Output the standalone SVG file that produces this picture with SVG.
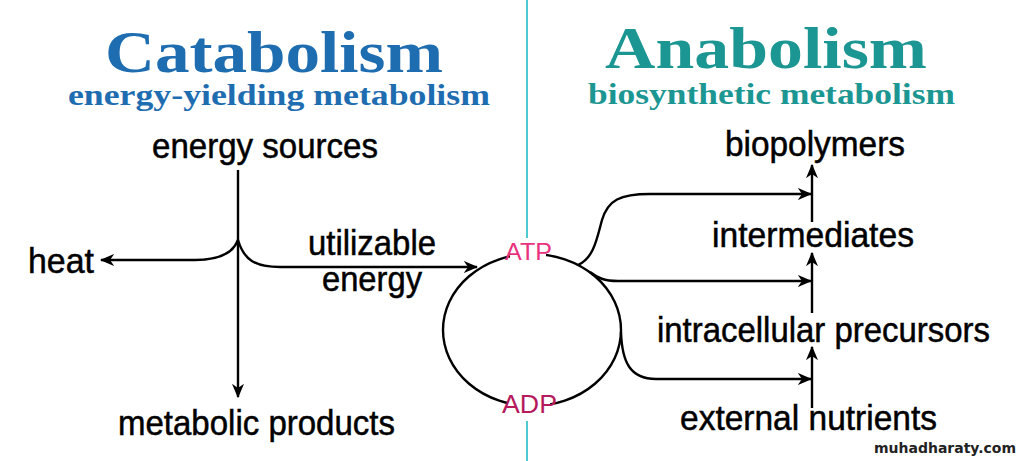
<svg xmlns="http://www.w3.org/2000/svg" width="1024" height="461" viewBox="0 0 1024 461">
<defs>
<style>
.t{font-family:"Liberation Sans",Arial,sans-serif;font-size:35px;fill:#000;stroke:#000;stroke-width:0.5;}
.title{font-family:"Liberation Serif","Times New Roman",serif;font-weight:bold;}
.ln{fill:none;stroke:#000;stroke-width:2.4;}
.ar{marker-end:url(#ah);}
.nt{font-family:"Liberation Sans",Arial,sans-serif;}
</style>
<marker id="ah" viewBox="0 0 12 10" refX="11" refY="5" markerWidth="6" markerHeight="5" markerUnits="strokeWidth" orient="auto">
<path d="M0,0 L12,5 L0,10 L3.5,5 z" fill="#000"/>
</marker>
</defs>
<rect width="1024" height="461" fill="#fff"/>
<g id="divider">
<line x1="527" y1="0" x2="527" y2="238" stroke="#4fc9d2" stroke-width="2"/>
<line x1="527" y1="421" x2="527" y2="461" stroke="#4fc9d2" stroke-width="2"/>
</g>
<g id="catabolism-title">
<text class="title" x="105" y="72" font-size="60" fill="#1e6db0" textLength="338" lengthAdjust="spacingAndGlyphs">Catabolism</text>
<text class="title" x="68" y="105" font-size="29" fill="#1e6db0" textLength="422" lengthAdjust="spacingAndGlyphs">energy-yielding metabolism</text>
</g>
<g id="anabolism-title">
<text class="title" x="605" y="68" font-size="60" fill="#1b9692" textLength="322" lengthAdjust="spacingAndGlyphs">Anabolism</text>
<text class="title" x="588" y="104" font-size="29" fill="#1b9692" textLength="367" lengthAdjust="spacingAndGlyphs">biosynthetic metabolism</text>
</g>
<g id="connectors">
<path class="ln ar" d="M238,170 L238,397"/>
<path class="ln ar" d="M238,240 C232,256 215,260 195,260 L101,260"/>
<path class="ln ar" d="M238,240 C244,260 255,267 280,267 L477,267"/>
<ellipse class="ln" cx="532" cy="330" rx="89" ry="76"/>
<path class="ln ar" d="M578,265 C594,258 597,238 602,220 C608,200 620,194 650,194 L811,194"/>
<path class="ln ar" d="M590,272 C598,278 604,281 618,281 L811,281"/>
<path class="ln ar" d="M621,332 C622,362 630,379 656,379 L811,379"/>
<path class="ln ar" d="M812,222 L812,165"/>
<path class="ln ar" d="M812,313 L812,253"/>
<path class="ln ar" d="M812,408 L812,347"/>
</g>
<g id="energy-sources"><text class="t" x="152" y="158" textLength="226" lengthAdjust="spacingAndGlyphs">energy sources</text></g>
<g id="heat"><text class="t" x="28" y="273" textLength="66" lengthAdjust="spacingAndGlyphs">heat</text></g>
<g id="utilizable-energy">
<text class="t" x="308" y="255" textLength="128" lengthAdjust="spacingAndGlyphs">utilizable</text>
<text class="t" x="322" y="291" textLength="100" lengthAdjust="spacingAndGlyphs">energy</text>
</g>
<g id="metabolic-products"><text class="t" x="118" y="435" textLength="277" lengthAdjust="spacingAndGlyphs">metabolic products</text></g>
<g id="atp">
<rect x="510" y="242" width="36" height="16" fill="#fff"/>
<text class="nt" x="505" y="260" font-size="24" fill="#e8327e" textLength="47" lengthAdjust="spacingAndGlyphs">ATP</text>
</g>
<g id="adp">
<rect x="508" y="396" width="42" height="16" fill="#fff"/>
<text class="nt" x="502" y="413" font-size="26" fill="#b51a5c" textLength="55" lengthAdjust="spacingAndGlyphs">ADP</text>
</g>
<g id="biopolymers"><text class="t" x="725" y="156" textLength="180" lengthAdjust="spacingAndGlyphs">biopolymers</text></g>
<g id="intermediates"><text class="t" x="712" y="247" textLength="202" lengthAdjust="spacingAndGlyphs">intermediates</text></g>
<g id="intracellular-precursors"><text class="t" x="657" y="342" textLength="333" lengthAdjust="spacingAndGlyphs">intracellular precursors</text></g>
<g id="external-nutrients"><text class="t" x="680" y="430" textLength="257" lengthAdjust="spacingAndGlyphs">external nutrients</text></g>
<g id="watermark"><text x="874" y="453" font-family="DejaVu Sans,sans-serif" font-weight="bold" font-size="14" fill="#222" textLength="142" lengthAdjust="spacingAndGlyphs">muhadharaty.com</text></g>
</svg>
